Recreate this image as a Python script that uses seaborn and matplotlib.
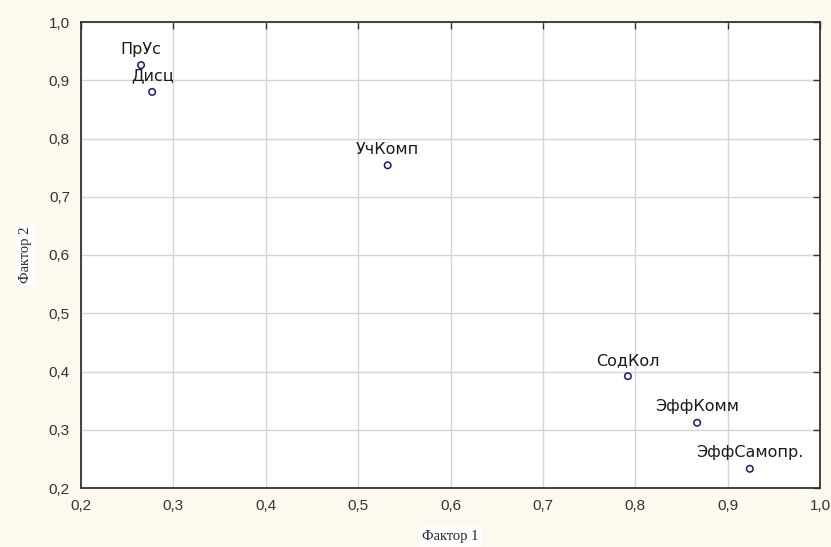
import matplotlib
matplotlib.use('Agg')
import matplotlib.pyplot as plt
import seaborn as sns
import pandas as pd
from matplotlib.ticker import FuncFormatter

# Данные (нагрузки факторов)
labels = ['ПрУс', 'Дисц', 'УчКомп', 'СодКол', 'ЭффКомм', 'ЭффСамопр.']
factor1 = [0.265, 0.277, 0.532, 0.792, 0.867, 0.924]
factor2 = [0.926, 0.880, 0.754, 0.392, 0.312, 0.233]
x_ticks = [0.2, 0.3, 0.4, 0.5, 0.6, 0.7, 0.8, 0.9, 1.0]
y_ticks = [0.2, 0.3, 0.4, 0.5, 0.6, 0.7, 0.8, 0.9, 1.0]

df = pd.DataFrame({'f1': factor1, 'f2': factor2, 'label': labels})

sns.set_style('white')
plt.rcParams['font.family'] = ['Liberation Sans', 'DejaVu Sans']

fig = plt.figure(figsize=(8.31, 5.47), dpi=100, facecolor='#fdf9ef')
ax = fig.add_axes([81 / 831, 1 - 488 / 547, 739 / 831, 466 / 547])
ax.set_facecolor('white')

sns.scatterplot(data=df, x='f1', y='f2', ax=ax, marker='o', s=22,
                facecolor='none', edgecolor='#1a1a6e', linewidth=1.1, zorder=3)

for _, r in df.iterrows():
    ax.annotate(r['label'], (r['f1'], r['f2']), xytext=(0, 6),
                textcoords='offset points', ha='center', va='bottom',
                fontsize=11.5, color='#1a1a1a', family=['DejaVu Sans'])

ax.set_xlim(0.2, 1.0)
ax.set_ylim(0.2, 1.0)
ax.set_xticks(x_ticks)
ax.set_yticks(y_ticks)
fmt = FuncFormatter(lambda v, p: f'{v:.1f}'.replace('.', ','))
ax.xaxis.set_major_formatter(fmt)
ax.yaxis.set_major_formatter(fmt)
ax.tick_params(direction='in', length=5, width=1, top=True, right=True,
               labelsize=11, labelcolor='#333333', color='#333333', pad=8)
ax.grid(True, color='#d4d4d4', linewidth=1)
for s in ax.spines.values():
    s.set_color('#333333')
    s.set_linewidth(1.3)

ax.set_xlabel('Фактор 1', family=['Liberation Serif'], fontsize=10.5, labelpad=12,
              bbox=dict(facecolor='white', edgecolor='none', pad=2))
ax.set_ylabel('Фактор 2', family=['Liberation Serif'], fontsize=10.5, labelpad=12,
              bbox=dict(facecolor='white', edgecolor='none', pad=2))

fig.savefig('out.png', dpi=100, facecolor=fig.get_facecolor())
